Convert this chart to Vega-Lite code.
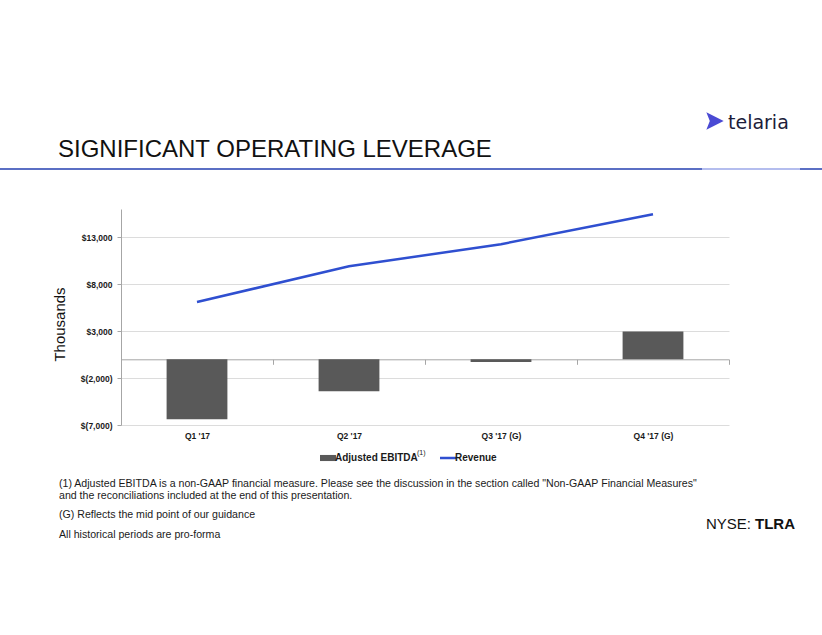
{
  "$schema": "https://vega.github.io/schema/vega-lite/v6.json",
  "autosize": {"type": "none"},
  "width": 608,
  "height": 216,
  "padding": {"left": 121, "top": 209, "right": 93, "bottom": 210},
  "background": "white",
  "config": {
    "view": {"stroke": null},
    "font": "Liberation Sans"
  },
  "data": {
    "values": [
      {"quarter": "Q1 '17", "ebitda": -6400, "revenue": 6100},
      {"quarter": "Q2 '17", "ebitda": -3400, "revenue": 9900},
      {"quarter": "Q3 '17 (G)", "ebitda": -300, "revenue": 12250},
      {"quarter": "Q4 '17 (G)", "ebitda": 2950, "revenue": 15450}
    ]
  },
  "layer": [
    {
      "mark": {"type": "bar"},
      "encoding": {
        "x": {
          "field": "quarter", "type": "nominal", "sort": null,
          "scale": {"paddingInner": 0.6, "paddingOuter": 0.3},
          "axis": {
            "title": null, "labelAngle": 0, "offset": -65.7,
            "domainColor": "#a6a6a6", "tickColor": "#a6a6a6", "tickSize": 5, "tickOffset": 76, "labelOffset": -76,
            "labelPadding": 67, "labelFont": "Liberation Sans", "labelFontSize": 8.5,
            "labelFontWeight": "bold", "labelColor": "#1a1a1a", "grid": false
          }
        },
        "y": {
          "field": "ebitda", "type": "quantitative",
          "scale": {"domain": [-7000, 16000], "nice": false, "zero": false},
          "axis": {
            "title": "Thousands", "titleFont": "Liberation Sans", "titleFontSize": 15,
            "titleFontWeight": "normal", "titleColor": "#111111",
            "titleX": -62, "titleY": 115, "titleAngle": -90, "titleAlign": "center", "titleBaseline": "middle",
            "values": [-7000, -2000, 3000, 8000, 13000],
            "labelExpr": "datum.value < 0 ? '$(' + format(-datum.value, ',') + ')' : '$' + format(datum.value, ',')",
            "labelFont": "Liberation Sans", "labelFontSize": 8.5, "labelFontWeight": "bold", "labelColor": "#1a1a1a",
            "labelPadding": 5, "ticks": true, "tickSize": 4, "tickColor": "#a6a6a6",
            "domainColor": "#a6a6a6", "gridColor": "#dcdcdc", "gridWidth": 1
          }
        },
        "color": {
          "datum": "Adjusted EBITDA",
          "type": "nominal",
          "scale": {"domain": ["Adjusted EBITDA", "Revenue"], "range": ["#595959", "#2f4fd0"]},
          "legend": {
            "orient": "none", "legendX": 202, "legendY": 244, "direction": "horizontal",
            "title": null, "padding": 0,
            "labelFont": "Liberation Sans", "labelFontSize": 10, "labelFontWeight": "bold", "labelColor": "#1a1a1a",
            "labelOffset": 2, "columnPadding": 17, "symbolSize": 256,
            "encode": {
              "symbols": {
                "update": {
                  "shape": {"signal": "datum.value == 'Revenue' ? 'M-1,0L1,0' : 'M-1,-0.38L1,-0.38L1,0.38L-1,0.38Z'"},
                  "fill": {"signal": "datum.value == 'Revenue' ? 'transparent' : '#595959'"},
                  "stroke": {"signal": "datum.value == 'Revenue' ? '#2f4fd0' : '#595959'"},
                  "strokeWidth": {"signal": "datum.value == 'Revenue' ? 2.5 : 0"},
                  "opacity": {"value": 1}
                }
              }
            }
          }
        }
      }
    },
    {
      "mark": {"type": "line", "strokeWidth": 2.5},
      "encoding": {
        "x": {"field": "quarter", "type": "nominal", "sort": null},
        "y": {"field": "revenue", "type": "quantitative"},
        "color": {"datum": "Revenue", "type": "nominal"}
      }
    },
    {
      "data": {"values": [{}]},
      "mark": {"type": "text", "x": 296, "y": 246, "text": "(1)", "font": "Liberation Sans", "fontSize": 7, "align": "left", "baseline": "alphabetic", "color": "#1a1a1a"},
      "encoding": {}
    },
    {
      "data": {"values": [{}]},
      "mark": {"type": "text", "x": -63, "y": -52, "text": "SIGNIFICANT OPERATING LEVERAGE", "font": "Liberation Sans", "fontSize": 24, "align": "left", "baseline": "alphabetic", "color": "#111111"},
      "encoding": {}
    },
    {
      "data": {"values": [{}]},
      "mark": {"type": "rect", "x": -121, "x2": 581, "y": -41, "y2": -39, "color": "#5b6fc4"},
      "encoding": {}
    },
    {
      "data": {"values": [{}]},
      "mark": {"type": "rect", "x": 581, "x2": 679, "y": -41, "y2": -39, "color": "#b4bdee"},
      "encoding": {}
    },
    {
      "data": {"values": [{}]},
      "mark": {"type": "rect", "x": 679, "x2": 701, "y": -41, "y2": -39, "color": "#5b6fc4"},
      "encoding": {}
    },
    {
      "data": {"values": [{}]},
      "mark": {"type": "point", "x": 594, "y": -88, "shape": "M-1,-1L1,0L-1,1L-0.6,0Z", "size": 300, "filled": true, "color": "#4a4ad4", "opacity": 1},
      "encoding": {}
    },
    {
      "data": {"values": [{}]},
      "mark": {"type": "text", "x": 607, "y": -80, "text": "telaria", "font": "DejaVu Sans", "fontSize": 19, "letterSpacing": 1.5, "align": "left", "baseline": "alphabetic", "color": "#1c1d3a"},
      "encoding": {}
    },
    {
      "data": {"values": [{}]},
      "mark": {"type": "text", "x": -62, "y": 278, "text": "(1) Adjusted EBITDA is a non-GAAP financial measure. Please see the discussion in the section called \"Non-GAAP Financial Measures\"", "font": "Liberation Sans", "fontSize": 10.6, "align": "left", "baseline": "alphabetic", "color": "#1a1a1a"},
      "encoding": {}
    },
    {
      "data": {"values": [{}]},
      "mark": {"type": "text", "x": -62, "y": 290, "text": "and the reconciliations included at the end of this presentation.", "font": "Liberation Sans", "fontSize": 10.6, "align": "left", "baseline": "alphabetic", "color": "#1a1a1a"},
      "encoding": {}
    },
    {
      "data": {"values": [{}]},
      "mark": {"type": "text", "x": -62, "y": 309, "text": "(G) Reflects the mid point of our guidance", "font": "Liberation Sans", "fontSize": 10.6, "align": "left", "baseline": "alphabetic", "color": "#1a1a1a"},
      "encoding": {}
    },
    {
      "data": {"values": [{}]},
      "mark": {"type": "text", "x": -62, "y": 329, "text": "All historical periods are pro-forma", "font": "Liberation Sans", "fontSize": 10.6, "align": "left", "baseline": "alphabetic", "color": "#1a1a1a"},
      "encoding": {}
    },
    {
      "data": {"values": [{}]},
      "mark": {"type": "text", "x": 585, "y": 320, "text": "NYSE: ", "font": "Liberation Sans", "fontSize": 15, "align": "left", "baseline": "alphabetic", "color": "#111111"},
      "encoding": {}
    },
    {
      "data": {"values": [{}]},
      "mark": {"type": "text", "x": 634, "y": 320, "text": "TLRA", "font": "Liberation Sans", "fontSize": 15, "fontWeight": "bold", "align": "left", "baseline": "alphabetic", "color": "#111111"},
      "encoding": {}
    }
  ]
}
